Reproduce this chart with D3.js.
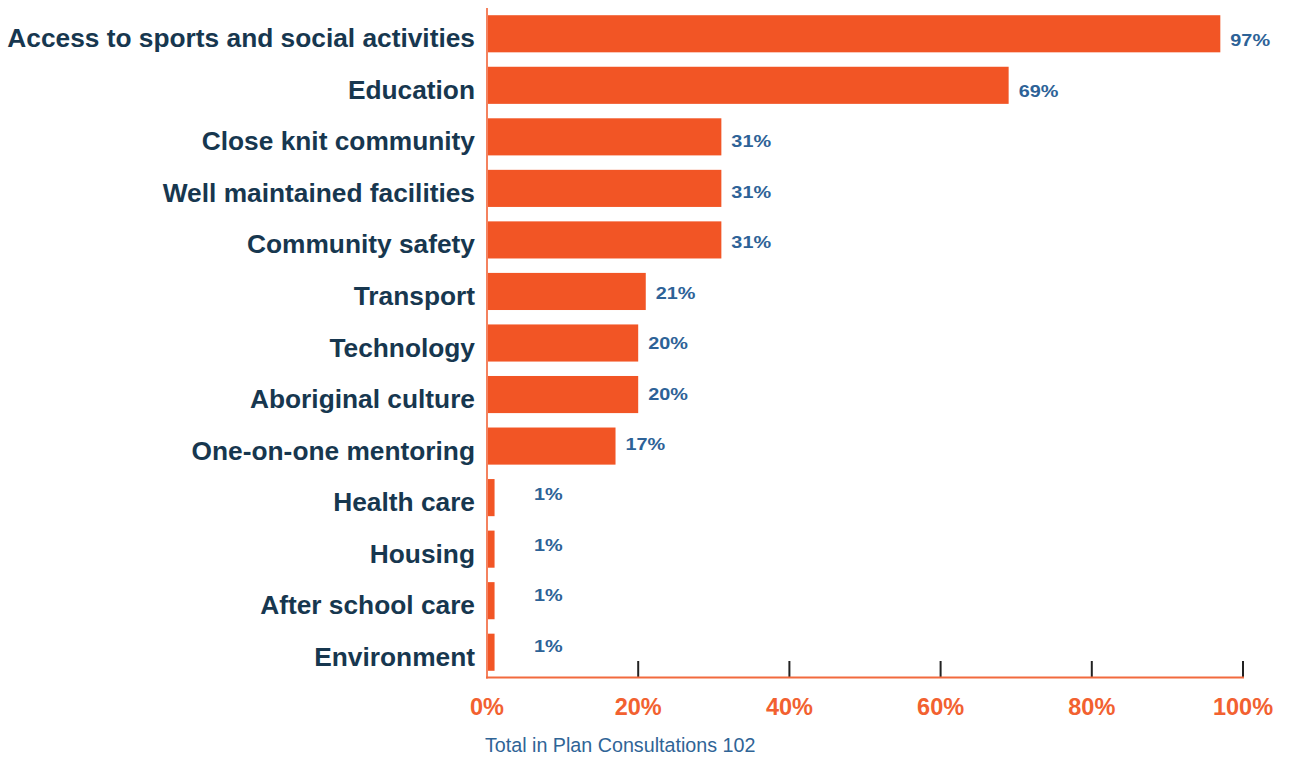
<!DOCTYPE html>
<html>
<head>
<meta charset="utf-8">
<script src="https://cdn.jsdelivr.net/npm/d3@7"></script>
<style>
  html, body { margin: 0; padding: 0; background: #ffffff; }
  svg { display: block; }
</style>
</head>
<body>
<svg id="chart" width="1290" height="758"></svg>
<script>
const categories = [
  "Access to sports and social activities",
  "Education",
  "Close knit community",
  "Well maintained facilities",
  "Community safety",
  "Transport",
  "Technology",
  "Aboriginal culture",
  "One-on-one mentoring",
  "Health care",
  "Housing",
  "After school care",
  "Environment"
];
const values = [97, 69, 31, 31, 31, 21, 20, 20, 17, 1, 1, 1, 1];
const tickValues = [0, 20, 40, 60, 80, 100];
const footerText = "Total in Plan Consultations 102";

(function () {
const svg = d3.select("#chart");
const plotLeft = 487, plotRight = 1243, plotTop = 8, plotBottom = 678;

const x = d3.scaleLinear().domain([0, 100]).range([plotLeft, plotRight]);
const y = d3.scaleBand().domain(categories).range([plotTop, plotBottom]).paddingInner(0.28).paddingOuter(0.14);
const yLabel = d3.scalePoint().domain(categories).range([46.3, 651.8]);

const barColor = "#f25525";
const data = categories.map((c, i) => ({ c, v: values[i] }));

// ticks (drawn first, under the axis line)
svg.append("g").selectAll("line").data(tickValues).join("line")
  .attr("x1", d => x(d)).attr("x2", d => x(d))
  .attr("y1", 661).attr("y2", 677)
  .attr("stroke", "#222222").attr("stroke-width", 2);

// bars
svg.append("g").selectAll("rect").data(data).join("rect")
  .attr("x", x(0) + 1)
  .attr("y", d => y(d.c))
  .attr("width", d => x(d.v) - x(0) - 1)
  .attr("height", y.bandwidth())
  .attr("fill", barColor);

// axis lines
svg.append("line")
  .attr("x1", x(0)).attr("x2", x(0)).attr("y1", plotTop).attr("y2", 678.5)
  .attr("stroke", "#f4825f").attr("stroke-width", 2);
svg.append("line")
  .attr("x1", x(0) - 1).attr("x2", x(100) + 1).attr("y1", 677.5).attr("y2", 677.5)
  .attr("stroke", "#f26a3e").attr("stroke-width", 2);

// category labels
svg.append("g").selectAll("text").data(data).join("text")
  .attr("x", 475)
  .attr("y", d => y(d.c) + y.bandwidth() / 2 + 13.5)
  .attr("text-anchor", "end")
  .attr("font-family", "'Liberation Sans', Arial, Helvetica, sans-serif")
  .attr("font-weight", "bold")
  .attr("font-size", "26.3px")
  .attr("fill", "#17374f")
  .text(d => d.c);

// value labels
svg.append("g").selectAll("text").data(data).join("text")
  .attr("transform", d => `translate(${Math.max(x(d.v) + 10, x(0) + 47)},${yLabel(d.c)}) scale(1.24,1)`)
  .attr("font-family", "'Liberation Sans', Arial, Helvetica, sans-serif")
  .attr("font-weight", "bold")
  .attr("font-size", "16px")
  .attr("fill", "#2d6297")
  .text(d => d.v + "%");

// tick labels
svg.append("g").selectAll("text").data(tickValues).join("text")
  .attr("x", d => x(d))
  .attr("y", 715)
  .attr("text-anchor", "middle")
  .attr("font-family", "'Liberation Sans', Arial, Helvetica, sans-serif")
  .attr("font-weight", "bold")
  .attr("font-size", "23.5px")
  .attr("fill", "#f26130")
  .text(d => d + "%");

// footer
svg.append("text")
  .attr("x", 485).attr("y", 752)
  .attr("font-family", "'Liberation Sans', Arial, Helvetica, sans-serif")
  .attr("font-size", "19.7px")
  .attr("fill", "#2f6496")
  .text(footerText);
})();
</script>
</body>
</html>
